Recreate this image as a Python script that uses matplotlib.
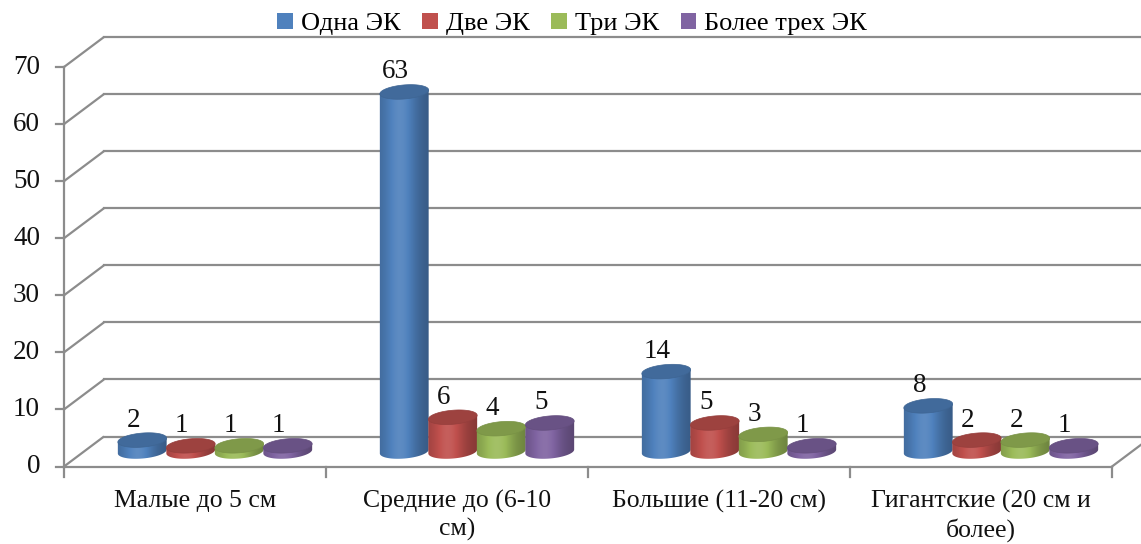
import numpy as np
import matplotlib
matplotlib.use("Agg")
import matplotlib.pyplot as plt
from matplotlib.patches import Polygon, Patch
import matplotlib.colors as mcolors

# ---------------- data ----------------
categories = ["Малые до 5 см", "Средние до (6-10\nсм)", "Большие (11-20 см)",
              "Гигантские (20 см и\nболее)"]
series_names = ["Одна ЭК", "Две ЭК", "Три ЭК", "Более трех ЭК"]
one_ek = [2, 63, 14, 8]
two_ek = [1, 6, 5, 2]
three_ek = [1, 4, 3, 2]
more_ek = [1, 5, 1, 1]
series_values = [one_ek, two_ek, three_ek, more_ek]
series_colors = ["#4F81BD", "#C0504D", "#9BBB59", "#8064A2"]
y_ticks = [0, 10, 20, 30, 40, 50, 60, 70]

# ---------------- layout ----------------
W, H, DPI = 1141, 544, 100
fig = plt.figure(figsize=(W / DPI, H / DPI), dpi=DPI)
ax_l, ax_r = 64, 1112          # pixel extent of front plane
ax_b, ax_t = 466.5, 67         # pixel y of value 0 / value 70
ax = fig.add_axes([ax_l / W, 1 - ax_b / H, (ax_r - ax_l) / W, (ax_b - ax_t) / H])
ncat = len(categories)
ymax = 70
ax.set_xlim(0, ncat)
ax.set_ylim(0, ymax)
ax.axis("off")

pxx = (ax_r - ax_l) / ncat     # px per x-unit
pxy = (ax_b - ax_t) / ymax     # px per y-unit
def dxu(px):
    return px / pxx
def dyu(px):
    return px / pxy

num_font = "Liberation Serif"
depth_dx, depth_dy = 40, 30    # back offset in px
grid_c = "#8c8c8c"
glw = 1.6

# walls / gridlines
for v in y_ticks:
    ax.plot([0, dxu(depth_dx)], [v, v + dyu(depth_dy)], color=grid_c, lw=glw,
            clip_on=False, solid_capstyle="butt", zorder=1)
    ax.plot([dxu(depth_dx), ncat + dxu(depth_dx)], [v + dyu(depth_dy)] * 2,
            color=grid_c, lw=glw, clip_on=False, zorder=1)
# floor front and right edge
ax.plot([0, ncat], [0, 0], color=grid_c, lw=glw, clip_on=False, zorder=1)
ax.plot([ncat, ncat + dxu(depth_dx)], [0, dyu(depth_dy)], color=grid_c, lw=glw,
        clip_on=False, zorder=1)
# front y axis
ax.plot([0, 0], [0, ymax], color=grid_c, lw=glw, clip_on=False, zorder=1)
for v in y_ticks:
    ax.plot([-dxu(8), 0], [v, v], color=grid_c, lw=glw, clip_on=False, zorder=1)
    ax.text(-dxu(24), v, str(v), ha="right", va="center", fontsize=19.5,
            family=num_font, color="#111111")
for i in range(ncat + 1):
    ax.plot([i, i], [0, -dyu(10)], color=grid_c, lw=glw, clip_on=False, zorder=1)
for i, c in enumerate(categories):
    ax.text(i + 0.5, -dyu(23), c, ha="center", va="top", fontsize=18.5,
            family="Liberation Serif", linespacing=1.3, color="#111111")

# ---------------- cylinders ----------------
pitch = 48.5
diam = 49
a_px = diam / 2
b_px = 7
tilt = np.deg2rad(5)

def ell_pts(cx, cy, t):
    ex = a_px * np.cos(t)
    ey = b_px * np.sin(t)
    rx = ex * np.cos(tilt) - ey * np.sin(tilt)
    ry = ex * np.sin(tilt) + ey * np.cos(tilt)
    return np.column_stack([cx + dxu(rx), cy + dyu(ry)])

def shade(col, f):
    rgb = np.array(mcolors.to_rgb(col))
    if f >= 1:
        return rgb + (1 - rgb) * (f - 1)
    return rgb * f

nser = len(series_values)
for i in range(ncat):
    gc = i + 0.5 + dxu(depth_dx / 2)
    base_y = dyu(depth_dy / 2)
    for s in range(nser):
        v = series_values[s][i]
        col = series_colors[s]
        cx = gc + dxu((s - (nser - 1) / 2) * pitch)
        ytop = base_y + v
        ybot = base_y
        tl = np.linspace(np.pi, 2 * np.pi, 60)
        bot_half = ell_pts(cx, ybot, tl)
        left_top = ell_pts(cx, ytop, np.array([np.pi]))
        right_top = ell_pts(cx, ytop, np.array([0.0]))
        verts = np.vstack([left_top, bot_half, right_top, left_top])
        body = Polygon(verts, closed=True, facecolor="none", edgecolor="none")
        ax.add_patch(body)
        body.set_clip_on(False)
        # gradient
        tt = np.linspace(0, 1, 64)
        fac = 0.80 + 0.30 * np.exp(-((tt - 0.42) / 0.30) ** 2) - 0.10 * tt ** 2
        grad = np.array([[shade(col, f) for f in fac]])
        grad = np.clip(grad, 0, 1)
        x0 = cx - dxu(a_px + 1)
        x1 = cx + dxu(a_px + 1)
        im = ax.imshow(grad, extent=[x0, x1, ybot - dyu(b_px + 4), ytop + dyu(b_px + 4)],
                       aspect="auto", interpolation="bilinear", zorder=3, clip_on=True)
        im.set_clip_path(body)
        # top ellipse
        top_pts = ell_pts(cx, ytop, np.linspace(0, 2 * np.pi, 100))
        topc = shade(col, 0.82)
        ax.add_patch(Polygon(top_pts, closed=True, facecolor=topc,
                             edgecolor=shade(col, 0.78), lw=0.5, zorder=4,
                             clip_on=False))
        ax.text(cx - dxu(9), ytop + dyu(20), str(v), ha="center", va="center",
                fontsize=19.5, family=num_font, color="#111111", zorder=5)

ax.set_xlim(0, ncat)
ax.set_ylim(0, ymax)

# ---------------- legend ----------------
handles = [Patch(facecolor=c, edgecolor="none") for c in series_colors]
fig.legend(handles, series_names, loc="center", bbox_to_anchor=(0.5013, 1 - 24 / H),
           ncol=4, frameon=False, handlelength=0.6, handleheight=0.6,
           handletextpad=0.3, columnspacing=0.82,
           prop={"family": "Liberation Serif", "size": 19})

fig.savefig("out.png", dpi=DPI)
